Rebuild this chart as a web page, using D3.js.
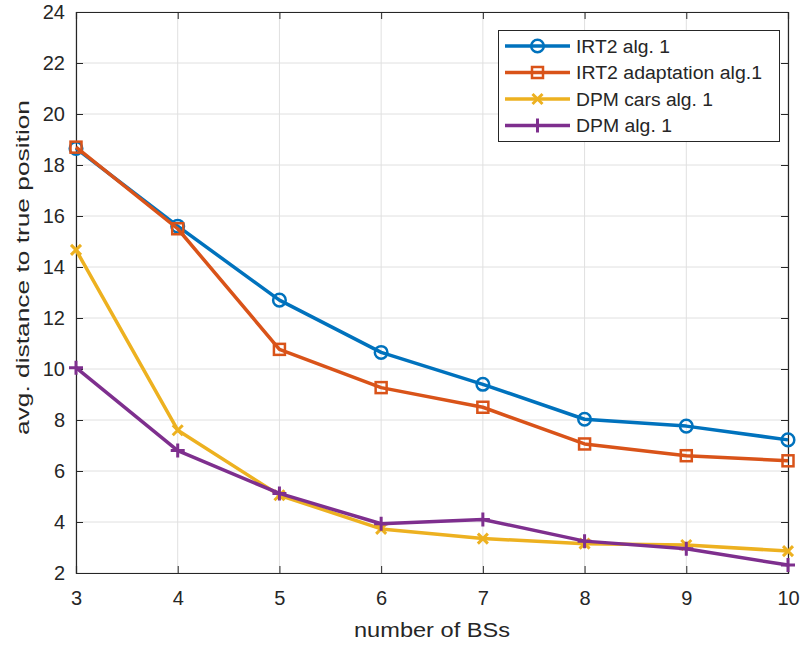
<!DOCTYPE html>
<html><head><meta charset="utf-8">
<script src="https://cdn.jsdelivr.net/npm/d3@7"></script>
<style>body{margin:0;background:#fff}svg{display:block}text{font-family:"Liberation Sans",Arial,sans-serif;fill:#262626}</style>
</head><body>
<script>
const xValues = [3,4,5,6,7,8,9,10];
const irt2 = [18.65,15.6,12.7,10.65,9.4,8.03,7.76,7.22];
const irt2Adapt = [18.7,15.5,10.77,9.27,8.5,7.06,6.6,6.4];
const dpmCars = [14.67,7.6,5.05,3.73,3.35,3.15,3.1,2.86];
const dpm = [10.05,6.8,5.12,3.93,4.1,3.25,2.95,2.31];
const yTicks = [2,4,6,8,10,12,14,16,18,20,22,24];
const seriesNames = ["IRT2 alg. 1","IRT2 adaptation alg.1","DPM cars alg. 1","DPM alg. 1"];
const legendLens = [94,186,137,96];
const colors = ["#0072BD","#D95319","#EDB120","#7E2F8E"];
const markers = ["circle","square","x","plus"];
const allSeries = [irt2, irt2Adapt, dpmCars, dpm];

const W=803,H=646, L=76,R=788,T=12,B=573;
const svg=d3.select("body").append("svg").attr("width",W).attr("height",H);
const x=d3.scaleLinear().domain([3,10]).range([L,R]);
const y=d3.scaleLinear().domain([2,24]).range([B,T]);

// grid
const g=svg.append("g");
g.selectAll(".gx").data(xValues).enter().append("line")
 .attr("x1",d=>x(d)).attr("x2",d=>x(d)).attr("y1",T).attr("y2",B)
 .attr("stroke","#e0e0e0").attr("stroke-width",1);
g.selectAll(".gy").data(yTicks).enter().append("line")
 .attr("y1",d=>y(d)).attr("y2",d=>y(d)).attr("x1",L).attr("x2",R)
 .attr("stroke","#e0e0e0").attr("stroke-width",1);

// axes
const ax=d3.axisBottom(x).tickValues(xValues).tickSize(-7).tickPadding(18).tickFormat(d3.format("d"));
const axT=d3.axisTop(x).tickValues(xValues).tickSize(-7).tickFormat("");
const ay=d3.axisLeft(y).tickValues(yTicks).tickSize(-7).tickPadding(11).tickFormat(d3.format("d"));
const ayR=d3.axisRight(y).tickValues(yTicks).tickSize(-7).tickFormat("");
function style(sel){sel.select(".domain").attr("stroke","#262626").attr("stroke-width",1.2);
 sel.selectAll(".tick line").attr("stroke","#262626");
 sel.selectAll(".tick text").attr("font-size",20).attr("fill","#262626").attr("font-family","Liberation Sans, Arial, sans-serif");}
svg.append("g").attr("transform",`translate(0,${B})`).call(ax).call(style);
svg.append("g").attr("transform",`translate(0,${T})`).call(axT).call(style);
svg.append("g").attr("transform",`translate(${L},0)`).call(ay).call(style);
svg.append("g").attr("transform",`translate(${R},0)`).call(ayR).call(style);

// axis labels
svg.append("text").attr("x",(L+R)/2).attr("y",637).attr("text-anchor","middle").attr("font-size",19.5)
 .attr("textLength",156).attr("lengthAdjust","spacingAndGlyphs").text("number of BSs");
svg.append("text").attr("transform",`translate(29,267.5) rotate(-90)`).attr("text-anchor","middle").attr("font-size",18)
 .attr("textLength",335).attr("lengthAdjust","spacingAndGlyphs").text("avg. distance to true position");

function drawMarker(sel,type,color,cx,cy){
 if(type==="circle") sel.append("circle").attr("cx",cx).attr("cy",cy).attr("r",6.3).attr("fill","none").attr("stroke",color).attr("stroke-width",2.5);
 else if(type==="square") sel.append("rect").attr("x",cx-5.5).attr("y",cy-5.5).attr("width",11).attr("height",11).attr("fill","none").attr("stroke",color).attr("stroke-width",2.5);
 else if(type==="x") sel.append("path").attr("d",`M${cx-5},${cy-5}L${cx+5},${cy+5}M${cx-5},${cy+5}L${cx+5},${cy-5}`).attr("stroke",color).attr("stroke-width",3);
 else sel.append("path").attr("d",`M${cx-7},${cy}L${cx+7},${cy}M${cx},${cy-7}L${cx},${cy+7}`).attr("stroke",color).attr("stroke-width",3);
}

const line=d3.line().x((d,i)=>x(xValues[i])).y(d=>y(d));
allSeries.forEach((s,k)=>{
 const gs=svg.append("g");
 gs.append("path").datum(s).attr("d",line).attr("fill","none").attr("stroke",colors[k]).attr("stroke-width",3.5).attr("stroke-linejoin","round");
 s.forEach((v,i)=>drawMarker(gs,markers[k],colors[k],x(xValues[i]),y(v)));
});

// legend
const lg=svg.append("g");
lg.append("rect").attr("x",498.5).attr("y",30.5).attr("width",281).attr("height",111).attr("fill","#fff").attr("stroke","#262626").attr("stroke-width",1);
seriesNames.forEach((n,k)=>{
 const cy=46+k*26.5;
 lg.append("line").attr("x1",505).attr("x2",570).attr("y1",cy).attr("y2",cy).attr("stroke",colors[k]).attr("stroke-width",3.5);
 drawMarker(lg,markers[k],colors[k],537.5,cy);
 lg.append("text").attr("x",576).attr("y",cy+6.5).attr("font-size",18)
  .attr("textLength",legendLens[k]).attr("lengthAdjust","spacingAndGlyphs").text(n);
});
</script>
</body></html>
